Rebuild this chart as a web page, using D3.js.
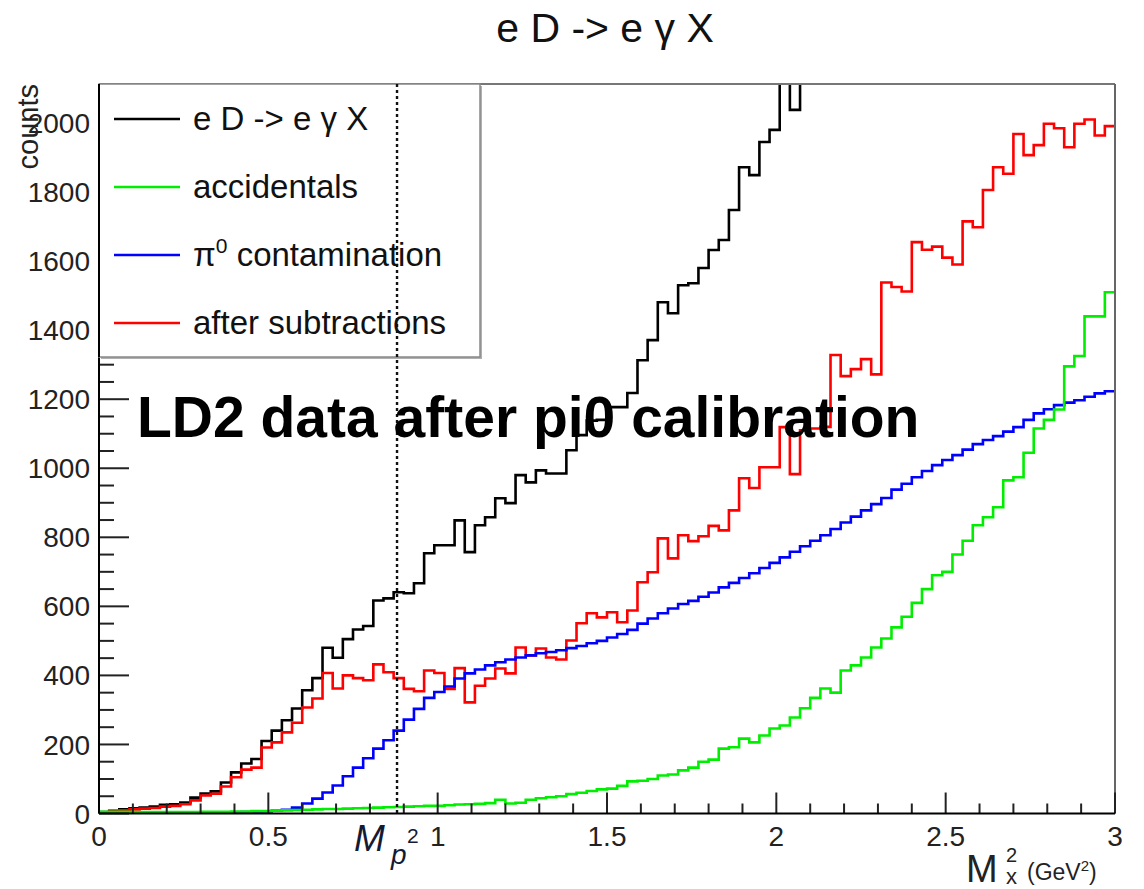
<!DOCTYPE html>
<html><head><meta charset="utf-8">
<script src="https://cdn.jsdelivr.net/npm/d3@7"></script>
<style>
body{margin:0;background:#fff;}
svg{display:block;font-family:"Liberation Sans",Arial,Helvetica,sans-serif;}
</style>
</head><body>
<svg id="chart" width="1144" height="889"></svg>
<script>
// ---- data ----
const binRange = [0, 3];          // GeV^2
const nBins = 100;
const yTop = 2113;                // upper limit of the y axis
const mp2 = 0.88;                 // proton mass squared marker

const totalCounts = [4,8,12,15,17,20,25,27,32,46,
  58,64,90,119,145,158,210,240,270,304,
  357,392,480,451,505,533,543,617,623,641,
  638,667,754,777,777,849,757,835,858,913,
  899,980,959,994,985,985,1052,1096,1138,1140,
  1177,1177,1218,1313,1371,1481,1449,1530,1536,1580,
  1632,1661,1748,1872,1849,1945,1980,2140,2038,2189,
  2240,2288,2502,2524,2576,2646,2649,2959,3002,3037,
  3239,3275,3341,3334,3378,3559,3603,3746,3852,3924,
  4061,4092,4210,4309,4338,4415,4520,4657,4621,4724];

const accidentals = [5,5,5,4,4,4,4,4,4,4,
  5,5,5,6,6,7,7,8,9,10,
  11,12,13,13,14,15,16,17,18,19,
  20,21,22,22,24,26,27,28,30,40,
  29,31,40,44,47,50,56,60,65,70,
  72,80,93,95,100,110,113,125,133,150,
  156,188,192,217,206,226,246,255,278,305,
  335,362,350,414,429,452,481,507,539,570,
  610,650,690,700,750,790,835,858,887,965,
  974,1045,1115,1140,1170,1295,1325,1440,1440,1510];

const pi0Contamination = [0,0,0,0,0,1,1,1,1,2,
  2,2,3,3,4,5,6,8,11,17,
  29,43,61,81,108,133,160,188,212,240,
  272,303,335,352,368,391,406,417,429,438,
  446,452,458,464,468,473,479,485,493,500,
  510,520,532,550,565,580,594,607,616,628,
  640,655,668,682,696,711,726,742,758,774,
  790,806,824,843,860,878,896,914,938,955,
  974,992,1009,1024,1038,1054,1070,1082,1093,1106,
  1119,1140,1159,1171,1183,1190,1197,1207,1217,1223];

const afterSubtractions = [3,6,9,12,14,16,20,22,27,38,
  52,57,78,105,127,133,191,206,235,263,
  307,333,407,362,400,392,386,432,409,392,
  361,354,414,407,361,421,322,370,391,420,
  406,481,458,478,452,446,501,551,580,568,
  583,554,588,670,699,797,739,806,789,803,
  833,820,878,971,943,1003,1003,1119,983,1110,
  1115,1120,1328,1267,1287,1316,1272,1538,1525,1512,
  1655,1633,1642,1610,1590,1715,1698,1806,1872,1853,
  1968,1907,1936,1998,1985,1930,1998,2010,1964,1991];

const xTickValues = [0, 0.5, 1, 1.5, 2, 2.5, 3];
const xTickLabels = ["0", "0.5", "1", "1.5", "2", "2.5", "3"];
const yTickValues = [0,200,400,600,800,1000,1200,1400,1600,1800,2000];

const legendLabels = ["e D -> e \u03b3 X", "accidentals", "\u03c0", "after subtractions"];
const legendColors = ["#000000", "#00ee00", "#0000ff", "#ff0000"];

// ---- layout ----
const svg = d3.select("#chart");
const L = 99, R = 1115, T = 84, B = 813.5;
const x = d3.scaleLinear().domain(binRange).range([L, R]);
const y = d3.scaleLinear().domain([0, yTop]).range([B, T]);
const binW = (binRange[1] - binRange[0]) / nBins;

svg.append("rect").attr("width",1144).attr("height",889).attr("fill","#fff");

svg.append("defs").append("clipPath").attr("id","plotclip")
  .append("rect").attr("x",L).attr("y",T).attr("width",R-L).attr("height",B-T);

// histogram step lines
function stepPoints(vals){
  const pts = vals.map((v,i)=>[binRange[0]+i*binW, v]);
  pts.push([binRange[1], vals[vals.length-1]]);
  return pts;
}
const line = d3.line().x(d=>x(d[0])).y(d=>y(d[1])).curve(d3.curveStepAfter);
const gPlot = svg.append("g").attr("clip-path","url(#plotclip)");
const drawOrder = [
  {vals: totalCounts, color: legendColors[0]},
  {vals: afterSubtractions, color: legendColors[3]},
  {vals: pi0Contamination, color: legendColors[2]},
  {vals: accidentals, color: legendColors[1]}
];
drawOrder.forEach(s=>{
  gPlot.append("path").attr("d", line(stepPoints(s.vals)))
    .attr("fill","none").attr("stroke", s.color).attr("stroke-width",2.6)
    .attr("stroke-linejoin","miter");
});

// frame
svg.append("line").attr("x1",L).attr("x2",R).attr("y1",T).attr("y2",T).attr("stroke","#777").attr("stroke-width",2);
svg.append("line").attr("x1",R).attr("x2",R).attr("y1",T).attr("y2",B).attr("stroke","#666").attr("stroke-width",2);

// y axis ticks
const yMinor = d3.range(0, yTop, 50);
svg.append("g").selectAll("line").data(yMinor).join("line")
  .attr("x1",L).attr("x2",d=> d%200===0 ? L+30 : L+15)
  .attr("y1",d=>y(d)).attr("y2",d=>y(d))
  .attr("stroke","#222").attr("stroke-width",2);
svg.append("g").selectAll("text").data(yTickValues).join("text")
  .attr("x",90).attr("y",d=>y(d)).attr("dy","0.36em")
  .attr("text-anchor","end").attr("font-size",28).attr("fill","#222")
  .text(d=>d);

// x axis ticks
const xMinor = d3.range(0, 31).map(i=>i/10);
svg.append("g").selectAll("line").data(xMinor).join("line")
  .attr("x1",d=>x(d)).attr("x2",d=>x(d))
  .attr("y1",B).attr("y2",(d,i)=> i%5===0 ? B-21 : B-10)
  .attr("stroke","#222").attr("stroke-width",2);
svg.append("g").selectAll("text").data(xTickValues).join("text")
  .attr("x",d=>x(d)).attr("y",846)
  .attr("text-anchor","middle").attr("font-size",28).attr("fill","#222")
  .text((d,i)=>xTickLabels[i]);

// axis lines
svg.append("line").attr("x1",L).attr("x2",L).attr("y1",T).attr("y2",B).attr("stroke","#000").attr("stroke-width",2);
svg.append("line").attr("x1",L).attr("x2",R).attr("y1",B).attr("y2",B).attr("stroke","#000").attr("stroke-width",2);

// legend box
const lg = {x0:L, y0:T, x1:480, y1:357};
svg.append("rect").attr("x",lg.x0+2).attr("y",lg.y0+2).attr("width",lg.x1-lg.x0).attr("height",lg.y1-lg.y0)
  .attr("fill","#b0b0b0");
svg.append("rect").attr("x",lg.x0).attr("y",lg.y0).attr("width",lg.x1-lg.x0).attr("height",lg.y1-lg.y0)
  .attr("fill","#fff").attr("stroke","#888").attr("stroke-width",1.5);
svg.append("line").attr("x1",L).attr("x2",L).attr("y1",T).attr("y2",lg.y1).attr("stroke","#000").attr("stroke-width",2);
const legY = [119, 187, 255, 323];
const gLeg = svg.append("g");
legendLabels.forEach((lab,i)=>{
  gLeg.append("line").attr("x1",114).attr("x2",180).attr("y1",legY[i]).attr("y2",legY[i])
    .attr("stroke",legendColors[i]).attr("stroke-width",2.6);
  const t = gLeg.append("text").attr("x",193).attr("y",legY[i]+11).attr("font-size",33).attr("fill","#111");
  if(i===2){
    t.append("tspan").text("\u03c0");
    t.append("tspan").attr("font-size",21).attr("dy",-13).text("0");
    t.append("tspan").attr("dy",13).text(" contamination");
  } else t.text(lab);
});

// M_p^2 dotted marker
svg.append("line").attr("x1",x(mp2)).attr("x2",x(mp2)).attr("y1",T).attr("y2",B)
  .attr("stroke","#111").attr("stroke-width",2.4).attr("stroke-dasharray","3,3");

// annotation text
svg.append("text").attr("x",137).attr("y",437).attr("font-size",57).attr("font-weight","bold")
  .attr("fill","#000").text("LD2 data after pi0 calibration");

// title
svg.append("text").attr("x",605).attr("y",42).attr("text-anchor","middle").attr("font-size",41)
  .attr("fill","#111").text("e D -> e \u03b3 X");

// y title
svg.append("text").attr("transform","translate(38,84) rotate(-90)").attr("text-anchor","end")
  .attr("font-size",29).attr("fill","#222").text("counts");

// x title  M_x^2 (GeV^2)
const gx = svg.append("g").attr("fill","#222");
gx.append("text").attr("x",966).attr("y",882).attr("font-size",38).text("M");
gx.append("text").attr("x",1006).attr("y",862).attr("font-size",20).text("2");
gx.append("text").attr("x",1006).attr("y",884).attr("font-size",22).text("x");
const gev = gx.append("text").attr("x",1027).attr("y",880).attr("font-size",23);
gev.append("tspan").text("(GeV");
gev.append("tspan").attr("font-size",15).attr("dy",-9).text("2");
gev.append("tspan").attr("dy",9).text(")");

// M_p^2 label
const gm = svg.append("g").attr("fill","#141a33");
gm.append("text").attr("x",354).attr("y",851).attr("font-size",37).attr("font-style","italic").text("M");
gm.append("text").attr("x",391).attr("y",864).attr("font-size",28).attr("font-style","italic").text("p");
gm.append("text").attr("x",407).attr("y",843).attr("font-size",21).text("2");
</script>
</body></html>
